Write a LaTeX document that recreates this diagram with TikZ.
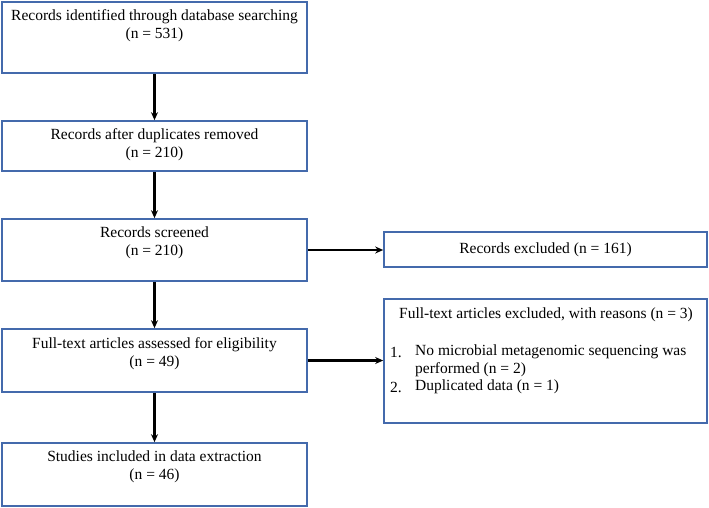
\documentclass[tikz,border=0pt]{standalone}
\usepackage{fontspec}
\setmainfont{Liberation Serif}
\usetikzlibrary{arrows.meta}
\definecolor{boxblue}{RGB}{68,106,172}
\tikzset{
  box/.style={draw=boxblue, line width=1.6pt, rectangle, inner sep=0pt},
  txt/.style={font=\fontsize{15.5}{18}\selectfont, align=center, inner sep=0pt},
  conn/.style={line width=2.2pt, -{Stealth[length=8pt,width=7pt]}}
}
\begin{document}
\begin{tikzpicture}[x=1pt,y=-1pt]
\useasboundingbox (0,0) rectangle (709,508);
% main column boxes
\node[box, minimum width=305pt, minimum height=71pt] (b1) at (154.5,37.5) {};
\node[box, minimum width=305pt, minimum height=50pt] (b2) at (154.5,146) {};
\node[box, minimum width=305pt, minimum height=62pt] (b3) at (154.5,250) {};
\node[box, minimum width=305pt, minimum height=63pt] (b4) at (154.5,360.5) {};
\node[box, minimum width=305pt, minimum height=63pt] (b5) at (154.5,474.5) {};
% side boxes
\node[box, minimum width=323pt, minimum height=35pt] (e1) at (545.5,249.5) {};
\node[box, minimum width=323pt, minimum height=124pt] (e2) at (545.5,361) {};
% texts
\node[txt] (t1) at (154.5,25.5) {Records identified through database searching\\(n = 531)};
\node[txt] (t2) at (154.5,144.5) {Records after duplicates removed\\(n = 210)};
\node[txt] (t3) at (154.5,243) {Records screened\\(n = 210)};
\node[txt] (t4) at (154.5,353.5) {Full-text articles assessed for eligibility\\(n = 49)};
\node[txt] (t5) at (154.5,467) {Studies included in data extraction\\(n = 46)};
\node[txt] (te1) at (545.5,249.5) {Records excluded (n = 161)};
\node[txt] (te2) at (546,315) {Full-text articles excluded, with reasons (n = 3)};
\node[txt, anchor=west] (n1) at (390,352) {1.};
\node[txt, anchor=west] (l1) at (415,352) {No microbial metagenomic sequencing was};
\node[txt, anchor=west] (l1b) at (415,370) {performed (n = 2)};
\node[txt, anchor=west] (n2) at (390,387) {2.};
\node[txt, anchor=west] (l2) at (415,387) {Duplicated data (n = 1)};
% connectors
\draw[conn] (b1.south) -- (b2.north);
\draw[conn] (b2.south) -- (b3.north);
\draw[conn] (b3.south) -- (b4.north);
\draw[conn] (b4.south) -- (b5.north);
\draw[conn] (b3.east) -- (b3.east -| e1.west);
\draw[conn] (b4.east) -- (b4.east -| e2.west);
\end{tikzpicture}
\end{document}
